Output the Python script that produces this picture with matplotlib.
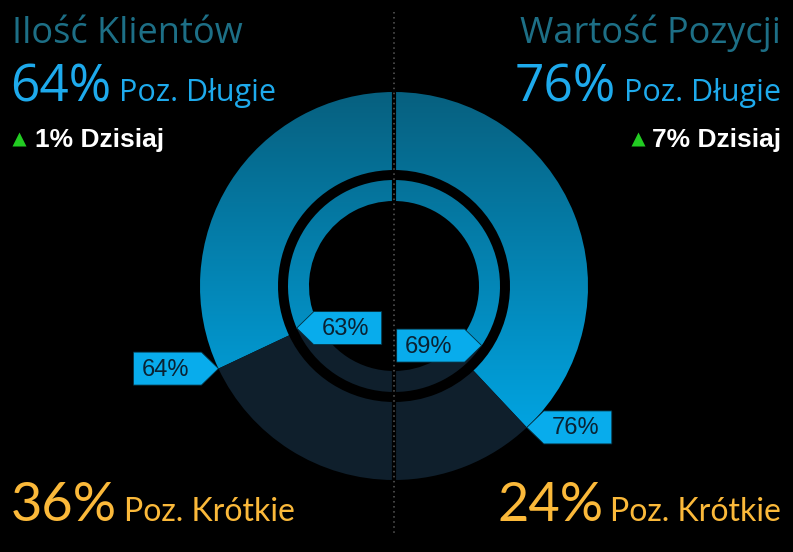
import numpy as np
import matplotlib.pyplot as plt
from matplotlib.patches import Wedge, Polygon
from matplotlib.colors import LinearSegmentedColormap

# values
panel_titles = ["Ilość Klientów", "Wartość Pozycji"]
long_pct = [64, 76]        # outer ring, long positions
inner_pct = [63, 69]       # inner ring
short_pct = [36, 24]
today_change = [1, 7]
long_label = "Poz. Długie"
short_label = "Poz. Krótkie"
today_label = "Dzisiaj"

W, H = 793, 552
cx, cy = 394, H - 286
R_out, r_out = 194, 116
R_in, r_in = 106, 85

BLUE_TOP = "#07607f"
BLUE_BOT = "#00aef0"
DARK = "#0f1f2c"
BOX = "#08acec"
TITLE_C = "#1d6f86"
LONG_C = "#1eaaec"
SHORT_C = "#fbb93a"

main_font = "Open Sans"
foot_font = "Lato"

fig = plt.figure(figsize=(W / 100, H / 100), dpi=100, facecolor="black")
ax = fig.add_axes([0, 0, 1, 1])
ax.set_xlim(0, W)
ax.set_ylim(0, H)
ax.axis("off")
ax.set_facecolor("black")
renderer = fig.canvas.get_renderer()

cmap = LinearSegmentedColormap.from_list("ring", [BLUE_BOT, BLUE_TOP])
grad = np.linspace(0, 1, 256).reshape(-1, 1)


def gradient_wedge(r, width, t1, t2):
    w = Wedge((cx, cy), r, t1, t2, width=width, facecolor="none", edgecolor="none")
    ax.add_patch(w)
    im = ax.imshow(grad, extent=(cx - R_out, cx + R_out, cy - R_out, cy + R_out),
                   origin="lower", cmap=cmap, aspect="auto", zorder=2)
    im.set_clip_path(w)


def solid_wedge(r, width, t1, t2):
    ax.add_patch(Wedge((cx, cy), r, t1, t2, width=width, facecolor=DARK,
                       edgecolor="none", zorder=2))


def callout(tx, ty, text, box_side):
    w, h, d = 68, 33, 17
    s = -1 if box_side == "left" else 1
    pts = [(tx, ty), (tx + s * d, ty + h / 2), (tx + s * (d + w), ty + h / 2),
           (tx + s * (d + w), ty - h / 2), (tx + s * d, ty - h / 2)]
    ax.add_patch(Polygon(pts, closed=True, facecolor=BOX, edgecolor="#06303f",
                         lw=0.6, zorder=5))
    ax.text(tx + s * (d + w / 2) - 2, ty - 1, text, ha="center", va="center",
            fontsize=17, color="#0a2233", family="Liberation Sans", zorder=6)


def bbox(t):
    return t.get_window_extent(renderer)


for i in range(2):
    a_long = 1.8 * long_pct[i]
    a_inner = 1.8 * inner_pct[i]
    if i == 0:
        # left half, counter-clockwise from the top
        gradient_wedge(R_out, R_out - r_out, 90, 90 + a_long)
        solid_wedge(R_out, R_out - r_out, 90 + a_long, 270)
        gradient_wedge(R_in, R_in - r_in, 90, 90 + a_inner)
        solid_wedge(R_in, R_in - r_in, 90 + a_inner, 270)
        th_o, th_i = 90 + a_long, 90 + a_inner
        side_o, side_i = "left", "right"
    else:
        gradient_wedge(R_out, R_out - r_out, 90 - a_long, 90)
        solid_wedge(R_out, R_out - r_out, -90, 90 - a_long)
        gradient_wedge(R_in, R_in - r_in, 90 - a_inner, 90)
        solid_wedge(R_in, R_in - r_in, -90, 90 - a_inner)
        th_o, th_i = 90 - a_long, 90 - a_inner
        side_o, side_i = "right", "left"
    callout(cx + R_out * np.cos(np.radians(th_o)), cy + R_out * np.sin(np.radians(th_o)),
            f"{long_pct[i]}%", side_o)
    callout(cx + R_in * np.cos(np.radians(th_i)), cy + R_in * np.sin(np.radians(th_i)),
            f"{inner_pct[i]}%", side_i)

# separator between the two halves
ax.plot([cx, cx], [H - 8, H - 538], color="black", lw=3, zorder=7, solid_capstyle="butt")
ax.plot([cx, cx], [H - 12, H - 535], color="#5a5a5a", lw=1.1,
        linestyle=(0, (1, 2.3)), zorder=8)

# headers
ax.text(12, H - 43, panel_titles[0], ha="left", va="baseline", fontsize=26,
        color=TITLE_C, family=main_font)
ax.text(781, H - 43, panel_titles[1], ha="right", va="baseline", fontsize=26,
        color=TITLE_C, family=main_font)

# left: number then label
t = ax.text(10, H - 101, f"{long_pct[0]}%", ha="left", va="baseline", fontsize=37,
            color=LONG_C, family=main_font)
ax.text(bbox(t).x1 + 8, H - 101, long_label, ha="left", va="baseline", fontsize=22,
        color=LONG_C, family=main_font)
# right: label right-aligned, number before it
t = ax.text(781, H - 101, long_label, ha="right", va="baseline", fontsize=22,
            color=LONG_C, family=main_font)
ax.text(bbox(t).x0 - 8, H - 101, f"{long_pct[1]}%", ha="right", va="baseline",
        fontsize=37, color=LONG_C, family=main_font)

ax.plot([18.5], [H - 139], marker="^", ms=10, color="#22cc22", mec="none")
ax.text(35, H - 147, f"{today_change[0]}% {today_label}", ha="left", va="baseline",
        fontsize=19, fontweight="bold", color="white", family="Liberation Sans")
t = ax.text(781, H - 147, f"{today_change[1]}% {today_label}", ha="right", va="baseline",
            fontsize=19, fontweight="bold", color="white", family="Liberation Sans")
ax.plot([bbox(t).x0 - 14], [H - 139], marker="^", ms=10, color="#22cc22", mec="none")

# footers
t = ax.text(11, H - 521, f"{short_pct[0]}%", ha="left", va="baseline", fontsize=39,
            color=SHORT_C, family=foot_font)
ax.text(bbox(t).x1 + 7, H - 521, short_label, ha="left", va="baseline", fontsize=23,
        color=SHORT_C, family=foot_font)
t = ax.text(781, H - 521, short_label, ha="right", va="baseline", fontsize=23,
            color=SHORT_C, family=foot_font)
ax.text(bbox(t).x0 - 7, H - 521, f"{short_pct[1]}%", ha="right", va="baseline",
        fontsize=39, color=SHORT_C, family=foot_font)

fig.savefig("out.png", dpi=100, facecolor="black")
